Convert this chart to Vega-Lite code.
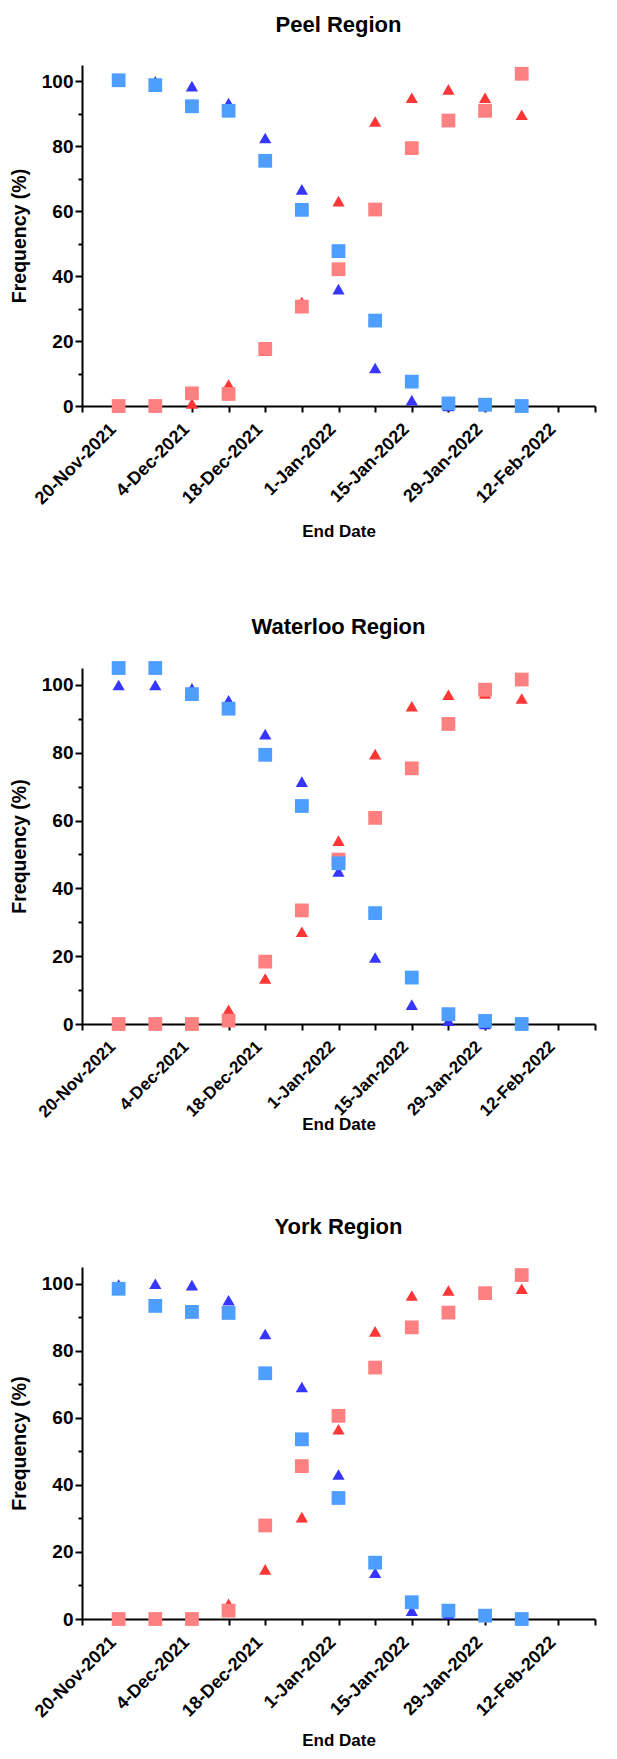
{
  "$schema": "https://vega.github.io/schema/vega-lite/v6.json",
  "padding": {"left": 9, "top": 14, "right": 6, "bottom": 5},
  "spacing": 76,
  "config": {
    "font": "Liberation Sans",
    "view": {"stroke": null},
    "axis": {
      "grid": false,
      "domainColor": "black",
      "domainWidth": 2,
      "tickColor": "black",
      "tickWidth": 2,
      "labelColor": "black",
      "labelFontSize": 18,
      "labelFontWeight": "bold",
      "labelOverlap": false,
      "titleColor": "black",
      "titleFontWeight": "bold"
    },
    "axisX": {"titleFontSize": 17, "labelOffset": -12, "labelPadding": 8},
    "axisY": {"titleFontSize": 19.5, "labelFontSize": 19},
    "title": {"fontSize": 22, "fontWeight": "bold", "color": "black", "offset": 28}
  },
  "datasets": {
    "freq": [
      {"region":"Peel","date":"2021-11-20","variant":"Delta","assay":"A","freq":100},
      {"region":"Peel","date":"2021-11-27","variant":"Delta","assay":"A","freq":100},
      {"region":"Peel","date":"2021-12-04","variant":"Delta","assay":"A","freq":98.5},
      {"region":"Peel","date":"2021-12-11","variant":"Delta","assay":"A","freq":93.3},
      {"region":"Peel","date":"2021-12-18","variant":"Delta","assay":"A","freq":82.5},
      {"region":"Peel","date":"2021-12-25","variant":"Delta","assay":"A","freq":66.7},
      {"region":"Peel","date":"2022-01-01","variant":"Delta","assay":"A","freq":36},
      {"region":"Peel","date":"2022-01-08","variant":"Delta","assay":"A","freq":11.7},
      {"region":"Peel","date":"2022-01-15","variant":"Delta","assay":"A","freq":1.8},
      {"region":"Peel","date":"2022-01-22","variant":"Delta","assay":"A","freq":0},
      {"region":"Peel","date":"2022-01-29","variant":"Delta","assay":"A","freq":0},
      {"region":"Peel","date":"2022-02-05","variant":"Delta","assay":"A","freq":0},
      {"region":"Peel","date":"2021-11-20","variant":"Delta","assay":"B","freq":100.3},
      {"region":"Peel","date":"2021-11-27","variant":"Delta","assay":"B","freq":98.8},
      {"region":"Peel","date":"2021-12-04","variant":"Delta","assay":"B","freq":92.3},
      {"region":"Peel","date":"2021-12-11","variant":"Delta","assay":"B","freq":90.9},
      {"region":"Peel","date":"2021-12-18","variant":"Delta","assay":"B","freq":75.5},
      {"region":"Peel","date":"2021-12-25","variant":"Delta","assay":"B","freq":60.4},
      {"region":"Peel","date":"2022-01-01","variant":"Delta","assay":"B","freq":47.7},
      {"region":"Peel","date":"2022-01-08","variant":"Delta","assay":"B","freq":26.3},
      {"region":"Peel","date":"2022-01-15","variant":"Delta","assay":"B","freq":7.5},
      {"region":"Peel","date":"2022-01-22","variant":"Delta","assay":"B","freq":0.8},
      {"region":"Peel","date":"2022-01-29","variant":"Delta","assay":"B","freq":0.4},
      {"region":"Peel","date":"2022-02-05","variant":"Delta","assay":"B","freq":0},
      {"region":"Peel","date":"2021-11-20","variant":"Omicron","assay":"A","freq":0},
      {"region":"Peel","date":"2021-11-27","variant":"Omicron","assay":"A","freq":0},
      {"region":"Peel","date":"2021-12-04","variant":"Omicron","assay":"A","freq":0.8},
      {"region":"Peel","date":"2021-12-11","variant":"Omicron","assay":"A","freq":6.6},
      {"region":"Peel","date":"2021-12-18","variant":"Omicron","assay":"A","freq":17},
      {"region":"Peel","date":"2021-12-25","variant":"Omicron","assay":"A","freq":32},
      {"region":"Peel","date":"2022-01-01","variant":"Omicron","assay":"A","freq":63.1},
      {"region":"Peel","date":"2022-01-08","variant":"Omicron","assay":"A","freq":87.6},
      {"region":"Peel","date":"2022-01-15","variant":"Omicron","assay":"A","freq":94.9},
      {"region":"Peel","date":"2022-01-22","variant":"Omicron","assay":"A","freq":97.5},
      {"region":"Peel","date":"2022-01-29","variant":"Omicron","assay":"A","freq":94.9},
      {"region":"Peel","date":"2022-02-05","variant":"Omicron","assay":"A","freq":89.7},
      {"region":"Peel","date":"2021-11-20","variant":"Omicron","assay":"B","freq":0},
      {"region":"Peel","date":"2021-11-27","variant":"Omicron","assay":"B","freq":0},
      {"region":"Peel","date":"2021-12-04","variant":"Omicron","assay":"B","freq":3.9},
      {"region":"Peel","date":"2021-12-11","variant":"Omicron","assay":"B","freq":3.7},
      {"region":"Peel","date":"2021-12-18","variant":"Omicron","assay":"B","freq":17.6},
      {"region":"Peel","date":"2021-12-25","variant":"Omicron","assay":"B","freq":30.6},
      {"region":"Peel","date":"2022-01-01","variant":"Omicron","assay":"B","freq":42.1},
      {"region":"Peel","date":"2022-01-08","variant":"Omicron","assay":"B","freq":60.5},
      {"region":"Peel","date":"2022-01-15","variant":"Omicron","assay":"B","freq":79.4},
      {"region":"Peel","date":"2022-01-22","variant":"Omicron","assay":"B","freq":87.9},
      {"region":"Peel","date":"2022-01-29","variant":"Omicron","assay":"B","freq":90.9},
      {"region":"Peel","date":"2022-02-05","variant":"Omicron","assay":"B","freq":102.3},

      {"region":"Waterloo","date":"2021-11-20","variant":"Delta","assay":"A","freq":100},
      {"region":"Waterloo","date":"2021-11-27","variant":"Delta","assay":"A","freq":100},
      {"region":"Waterloo","date":"2021-12-04","variant":"Delta","assay":"A","freq":99},
      {"region":"Waterloo","date":"2021-12-11","variant":"Delta","assay":"A","freq":95.5},
      {"region":"Waterloo","date":"2021-12-18","variant":"Delta","assay":"A","freq":85.5},
      {"region":"Waterloo","date":"2021-12-25","variant":"Delta","assay":"A","freq":71.5},
      {"region":"Waterloo","date":"2022-01-01","variant":"Delta","assay":"A","freq":45},
      {"region":"Waterloo","date":"2022-01-08","variant":"Delta","assay":"A","freq":19.6},
      {"region":"Waterloo","date":"2022-01-15","variant":"Delta","assay":"A","freq":5.7},
      {"region":"Waterloo","date":"2022-01-22","variant":"Delta","assay":"A","freq":1},
      {"region":"Waterloo","date":"2022-01-29","variant":"Delta","assay":"A","freq":0},
      {"region":"Waterloo","date":"2022-02-05","variant":"Delta","assay":"A","freq":0},
      {"region":"Waterloo","date":"2021-11-20","variant":"Delta","assay":"B","freq":105},
      {"region":"Waterloo","date":"2021-11-27","variant":"Delta","assay":"B","freq":105},
      {"region":"Waterloo","date":"2021-12-04","variant":"Delta","assay":"B","freq":97.3},
      {"region":"Waterloo","date":"2021-12-11","variant":"Delta","assay":"B","freq":93},
      {"region":"Waterloo","date":"2021-12-18","variant":"Delta","assay":"B","freq":79.4},
      {"region":"Waterloo","date":"2021-12-25","variant":"Delta","assay":"B","freq":64.3},
      {"region":"Waterloo","date":"2022-01-01","variant":"Delta","assay":"B","freq":47.4},
      {"region":"Waterloo","date":"2022-01-08","variant":"Delta","assay":"B","freq":32.7},
      {"region":"Waterloo","date":"2022-01-15","variant":"Delta","assay":"B","freq":13.7},
      {"region":"Waterloo","date":"2022-01-22","variant":"Delta","assay":"B","freq":2.9},
      {"region":"Waterloo","date":"2022-01-29","variant":"Delta","assay":"B","freq":0.9},
      {"region":"Waterloo","date":"2022-02-05","variant":"Delta","assay":"B","freq":0},
      {"region":"Waterloo","date":"2021-11-20","variant":"Omicron","assay":"A","freq":0},
      {"region":"Waterloo","date":"2021-11-27","variant":"Omicron","assay":"A","freq":0},
      {"region":"Waterloo","date":"2021-12-04","variant":"Omicron","assay":"A","freq":0},
      {"region":"Waterloo","date":"2021-12-11","variant":"Omicron","assay":"A","freq":4.2},
      {"region":"Waterloo","date":"2021-12-18","variant":"Omicron","assay":"A","freq":13.4},
      {"region":"Waterloo","date":"2021-12-25","variant":"Omicron","assay":"A","freq":27.2},
      {"region":"Waterloo","date":"2022-01-01","variant":"Omicron","assay":"A","freq":54.1},
      {"region":"Waterloo","date":"2022-01-08","variant":"Omicron","assay":"A","freq":79.6},
      {"region":"Waterloo","date":"2022-01-15","variant":"Omicron","assay":"A","freq":93.7},
      {"region":"Waterloo","date":"2022-01-22","variant":"Omicron","assay":"A","freq":97.1},
      {"region":"Waterloo","date":"2022-01-29","variant":"Omicron","assay":"A","freq":97.5},
      {"region":"Waterloo","date":"2022-02-05","variant":"Omicron","assay":"A","freq":96},
      {"region":"Waterloo","date":"2021-11-20","variant":"Omicron","assay":"B","freq":0},
      {"region":"Waterloo","date":"2021-11-27","variant":"Omicron","assay":"B","freq":0},
      {"region":"Waterloo","date":"2021-12-04","variant":"Omicron","assay":"B","freq":0},
      {"region":"Waterloo","date":"2021-12-11","variant":"Omicron","assay":"B","freq":1},
      {"region":"Waterloo","date":"2021-12-18","variant":"Omicron","assay":"B","freq":18.4},
      {"region":"Waterloo","date":"2021-12-25","variant":"Omicron","assay":"B","freq":33.5},
      {"region":"Waterloo","date":"2022-01-01","variant":"Omicron","assay":"B","freq":48.5},
      {"region":"Waterloo","date":"2022-01-08","variant":"Omicron","assay":"B","freq":60.8},
      {"region":"Waterloo","date":"2022-01-15","variant":"Omicron","assay":"B","freq":75.4},
      {"region":"Waterloo","date":"2022-01-22","variant":"Omicron","assay":"B","freq":88.5},
      {"region":"Waterloo","date":"2022-01-29","variant":"Omicron","assay":"B","freq":98.6},
      {"region":"Waterloo","date":"2022-02-05","variant":"Omicron","assay":"B","freq":101.6},

      {"region":"York","date":"2021-11-20","variant":"Delta","assay":"A","freq":99.8},
      {"region":"York","date":"2021-11-27","variant":"Delta","assay":"A","freq":100},
      {"region":"York","date":"2021-12-04","variant":"Delta","assay":"A","freq":99.6},
      {"region":"York","date":"2021-12-11","variant":"Delta","assay":"A","freq":95.1},
      {"region":"York","date":"2021-12-18","variant":"Delta","assay":"A","freq":85},
      {"region":"York","date":"2021-12-25","variant":"Delta","assay":"A","freq":69.2},
      {"region":"York","date":"2022-01-01","variant":"Delta","assay":"A","freq":43.1},
      {"region":"York","date":"2022-01-08","variant":"Delta","assay":"A","freq":13.8},
      {"region":"York","date":"2022-01-15","variant":"Delta","assay":"A","freq":2.5},
      {"region":"York","date":"2022-01-22","variant":"Delta","assay":"A","freq":1.5},
      {"region":"York","date":"2022-01-29","variant":"Delta","assay":"A","freq":1},
      {"region":"York","date":"2022-02-05","variant":"Delta","assay":"A","freq":0},
      {"region":"York","date":"2021-11-20","variant":"Delta","assay":"B","freq":98.5},
      {"region":"York","date":"2021-11-27","variant":"Delta","assay":"B","freq":93.4},
      {"region":"York","date":"2021-12-04","variant":"Delta","assay":"B","freq":91.6},
      {"region":"York","date":"2021-12-11","variant":"Delta","assay":"B","freq":91.3},
      {"region":"York","date":"2021-12-18","variant":"Delta","assay":"B","freq":73.3},
      {"region":"York","date":"2021-12-25","variant":"Delta","assay":"B","freq":53.6},
      {"region":"York","date":"2022-01-01","variant":"Delta","assay":"B","freq":36.1},
      {"region":"York","date":"2022-01-08","variant":"Delta","assay":"B","freq":16.8},
      {"region":"York","date":"2022-01-15","variant":"Delta","assay":"B","freq":5},
      {"region":"York","date":"2022-01-22","variant":"Delta","assay":"B","freq":2.5},
      {"region":"York","date":"2022-01-29","variant":"Delta","assay":"B","freq":1},
      {"region":"York","date":"2022-02-05","variant":"Delta","assay":"B","freq":0},
      {"region":"York","date":"2021-11-20","variant":"Omicron","assay":"A","freq":0},
      {"region":"York","date":"2021-11-27","variant":"Omicron","assay":"A","freq":0},
      {"region":"York","date":"2021-12-04","variant":"Omicron","assay":"A","freq":0},
      {"region":"York","date":"2021-12-11","variant":"Omicron","assay":"A","freq":4.5},
      {"region":"York","date":"2021-12-18","variant":"Omicron","assay":"A","freq":14.8},
      {"region":"York","date":"2021-12-25","variant":"Omicron","assay":"A","freq":30.4},
      {"region":"York","date":"2022-01-01","variant":"Omicron","assay":"A","freq":56.6},
      {"region":"York","date":"2022-01-08","variant":"Omicron","assay":"A","freq":85.8},
      {"region":"York","date":"2022-01-15","variant":"Omicron","assay":"A","freq":96.5},
      {"region":"York","date":"2022-01-22","variant":"Omicron","assay":"A","freq":98},
      {"region":"York","date":"2022-01-29","variant":"Omicron","assay":"A","freq":97.5},
      {"region":"York","date":"2022-02-05","variant":"Omicron","assay":"A","freq":98.5},
      {"region":"York","date":"2021-11-20","variant":"Omicron","assay":"B","freq":0},
      {"region":"York","date":"2021-11-27","variant":"Omicron","assay":"B","freq":0},
      {"region":"York","date":"2021-12-04","variant":"Omicron","assay":"B","freq":0},
      {"region":"York","date":"2021-12-11","variant":"Omicron","assay":"B","freq":2.5},
      {"region":"York","date":"2021-12-18","variant":"Omicron","assay":"B","freq":27.9},
      {"region":"York","date":"2021-12-25","variant":"Omicron","assay":"B","freq":45.6},
      {"region":"York","date":"2022-01-01","variant":"Omicron","assay":"B","freq":60.6},
      {"region":"York","date":"2022-01-08","variant":"Omicron","assay":"B","freq":75},
      {"region":"York","date":"2022-01-15","variant":"Omicron","assay":"B","freq":87},
      {"region":"York","date":"2022-01-22","variant":"Omicron","assay":"B","freq":91.4},
      {"region":"York","date":"2022-01-29","variant":"Omicron","assay":"B","freq":97.2},
      {"region":"York","date":"2022-02-05","variant":"Omicron","assay":"B","freq":102.6}
    ]
  },
  "vconcat": [
    {
      "title": "Peel Region",
      "width": 513,
      "height": 341,
      "data": {"name": "freq"},
      "transform": [{"filter": "datum.region == 'Peel'"}],
      "encoding": {
        "x": {
          "field": "date", "type": "temporal", "title": "End Date",
          "scale": {"type": "utc", "domain": [{"year": 2021, "month": 11, "date": 13, "utc": true}, {"year": 2022, "month": 2, "date": 19, "utc": true}]},
          "axis": {
            "values": [
              {"year": 2021, "month": 11, "date": 13, "utc": true}, {"year": 2021, "month": 11, "date": 20, "utc": true},
              {"year": 2021, "month": 11, "date": 27, "utc": true}, {"year": 2021, "month": 12, "date": 4, "utc": true},
              {"year": 2021, "month": 12, "date": 11, "utc": true}, {"year": 2021, "month": 12, "date": 18, "utc": true},
              {"year": 2021, "month": 12, "date": 25, "utc": true}, {"year": 2022, "month": 1, "date": 1, "utc": true},
              {"year": 2022, "month": 1, "date": 8, "utc": true}, {"year": 2022, "month": 1, "date": 15, "utc": true},
              {"year": 2022, "month": 1, "date": 22, "utc": true}, {"year": 2022, "month": 1, "date": 29, "utc": true},
              {"year": 2022, "month": 2, "date": 5, "utc": true}, {"year": 2022, "month": 2, "date": 12, "utc": true},
              {"year": 2022, "month": 2, "date": 19, "utc": true}
            ],
            "labelExpr": "round((datum.value - utc(2021,10,20))/86400000) % 14 == 0 ? utcFormat(datum.value, '%-d-%b-%Y') : ''",
            "labelAngle": -45,
            "tickSize": 6,
            "titlePadding": 16
          }
        },
        "y": {
          "field": "freq", "type": "quantitative", "title": "Frequency (%)",
          "scale": {"domain": [0, 105], "nice": false},
          "axis": {
            "values": [0, 10, 20, 30, 40, 50, 60, 70, 80, 90, 100],
            "labelExpr": "datum.value % 20 == 0 ? datum.label : ''",
            "tickSize": {"condition": {"test": "datum.value % 20 == 0", "value": 7}, "value": 4},
            "titlePadding": 12
          }
        }
      },
      "layer": [
        {
          "transform": [{"filter": "datum.assay == 'A'"}],
          "mark": {"type": "point", "shape": "triangle-up", "filled": true, "opacity": 1, "size": 150, "clip": false},
          "encoding": {"color": {"condition": {"test": "datum.variant == 'Delta'", "value": "#3636ff"}, "value": "#ff3636"}}
        },
        {
          "transform": [{"filter": "datum.assay == 'B'"}],
          "mark": {"type": "point", "shape": "square", "filled": true, "opacity": 1, "size": 190, "clip": false},
          "encoding": {
            "color": {"condition": {"test": "datum.variant == 'Delta'", "value": "#4d9eff"}, "value": "#ff8080"},
            "order": {"field": "variant", "sort": "descending"}
          }
        }
      ]
    },
    {
      "spacing": 83,
      "vconcat": [
        {
          "title": {"text": "Waterloo Region", "offset": 22},
          "width": 513,
          "height": 356,
          "data": {"name": "freq"},
          "transform": [{"filter": "datum.region == 'Waterloo'"}],
          "encoding": {
            "x": {
              "field": "date", "type": "temporal", "title": "End Date",
              "scale": {"type": "utc", "domain": [{"year": 2021, "month": 11, "date": 13, "utc": true}, {"year": 2022, "month": 2, "date": 19, "utc": true}]},
              "axis": {
                "values": [
                  {"year": 2021, "month": 11, "date": 13, "utc": true}, {"year": 2021, "month": 11, "date": 20, "utc": true},
                  {"year": 2021, "month": 11, "date": 27, "utc": true}, {"year": 2021, "month": 12, "date": 4, "utc": true},
                  {"year": 2021, "month": 12, "date": 11, "utc": true}, {"year": 2021, "month": 12, "date": 18, "utc": true},
                  {"year": 2021, "month": 12, "date": 25, "utc": true}, {"year": 2022, "month": 1, "date": 1, "utc": true},
                  {"year": 2022, "month": 1, "date": 8, "utc": true}, {"year": 2022, "month": 1, "date": 15, "utc": true},
                  {"year": 2022, "month": 1, "date": 22, "utc": true}, {"year": 2022, "month": 1, "date": 29, "utc": true},
                  {"year": 2022, "month": 2, "date": 5, "utc": true}, {"year": 2022, "month": 2, "date": 12, "utc": true},
                  {"year": 2022, "month": 2, "date": 19, "utc": true}
                ],
                "labelExpr": "round((datum.value - utc(2021,10,20))/86400000) % 14 == 0 ? utcFormat(datum.value, '%-d-%b-%Y') : ''",
                "labelAngle": -45,
                "labelFontSize": 17,
                "tickSize": 6,
                "titlePadding": -4
              }
            },
            "y": {
              "field": "freq", "type": "quantitative", "title": "Frequency (%)",
              "scale": {"domain": [0, 105], "nice": false},
              "axis": {
                "values": [0, 10, 20, 30, 40, 50, 60, 70, 80, 90, 100],
                "labelExpr": "datum.value % 20 == 0 ? datum.label : ''",
                "tickSize": {"condition": {"test": "datum.value % 20 == 0", "value": 7}, "value": 4},
                "titlePadding": 12
              }
            }
          },
          "layer": [
            {
              "transform": [{"filter": "datum.assay == 'A'"}],
              "mark": {"type": "point", "shape": "triangle-up", "filled": true, "opacity": 1, "size": 150, "clip": false},
              "encoding": {"color": {"condition": {"test": "datum.variant == 'Delta'", "value": "#3636ff"}, "value": "#ff3636"}}
            },
            {
              "transform": [{"filter": "datum.assay == 'B'"}],
              "mark": {"type": "point", "shape": "square", "filled": true, "opacity": 1, "size": 190, "clip": false},
              "encoding": {
                "color": {"condition": {"test": "datum.variant == 'Delta'", "value": "#4d9eff"}, "value": "#ff8080"},
                "order": {"field": "variant", "sort": "descending"}
              }
            }
          ]
        },
        {
          "title": "York Region",
          "width": 513,
          "height": 352,
          "data": {"name": "freq"},
          "transform": [{"filter": "datum.region == 'York'"}],
          "encoding": {
            "x": {
              "field": "date", "type": "temporal", "title": "End Date",
              "scale": {"type": "utc", "domain": [{"year": 2021, "month": 11, "date": 13, "utc": true}, {"year": 2022, "month": 2, "date": 19, "utc": true}]},
              "axis": {
                "values": [
                  {"year": 2021, "month": 11, "date": 13, "utc": true}, {"year": 2021, "month": 11, "date": 20, "utc": true},
                  {"year": 2021, "month": 11, "date": 27, "utc": true}, {"year": 2021, "month": 12, "date": 4, "utc": true},
                  {"year": 2021, "month": 12, "date": 11, "utc": true}, {"year": 2021, "month": 12, "date": 18, "utc": true},
                  {"year": 2021, "month": 12, "date": 25, "utc": true}, {"year": 2022, "month": 1, "date": 1, "utc": true},
                  {"year": 2022, "month": 1, "date": 8, "utc": true}, {"year": 2022, "month": 1, "date": 15, "utc": true},
                  {"year": 2022, "month": 1, "date": 22, "utc": true}, {"year": 2022, "month": 1, "date": 29, "utc": true},
                  {"year": 2022, "month": 2, "date": 5, "utc": true}, {"year": 2022, "month": 2, "date": 12, "utc": true},
                  {"year": 2022, "month": 2, "date": 19, "utc": true}
                ],
                "labelExpr": "round((datum.value - utc(2021,10,20))/86400000) % 14 == 0 ? utcFormat(datum.value, '%-d-%b-%Y') : ''",
                "labelAngle": -45,
                "tickSize": 6,
                "titlePadding": 12
              }
            },
            "y": {
              "field": "freq", "type": "quantitative", "title": "Frequency (%)",
              "scale": {"domain": [0, 105], "nice": false},
              "axis": {
                "values": [0, 10, 20, 30, 40, 50, 60, 70, 80, 90, 100],
                "labelExpr": "datum.value % 20 == 0 ? datum.label : ''",
                "tickSize": {"condition": {"test": "datum.value % 20 == 0", "value": 7}, "value": 4},
                "titlePadding": 12
              }
            }
          },
          "layer": [
            {
              "transform": [{"filter": "datum.assay == 'A'"}],
              "mark": {"type": "point", "shape": "triangle-up", "filled": true, "opacity": 1, "size": 150, "clip": false},
              "encoding": {"color": {"condition": {"test": "datum.variant == 'Delta'", "value": "#3636ff"}, "value": "#ff3636"}}
            },
            {
              "transform": [{"filter": "datum.assay == 'B'"}],
              "mark": {"type": "point", "shape": "square", "filled": true, "opacity": 1, "size": 190, "clip": false},
              "encoding": {
                "color": {"condition": {"test": "datum.variant == 'Delta'", "value": "#4d9eff"}, "value": "#ff8080"},
                "order": {"field": "variant", "sort": "descending"}
              }
            }
          ]
        }
      ]
    }
  ]
}
